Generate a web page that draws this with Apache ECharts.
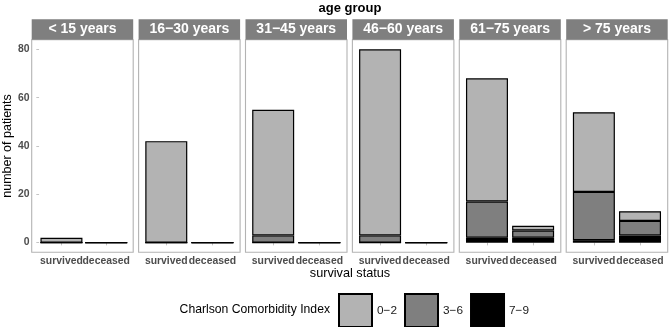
<!DOCTYPE html>
<html>
<head>
<meta charset="utf-8">
<script src="https://cdn.jsdelivr.net/npm/echarts@6/dist/echarts.min.js"></script>
<style>
  html, body { margin: 0; background: #fff; }
  #chart { width: 670px; height: 327px; }
</style>
</head>
<body>
<div id="chart"></div>
<script>
  // facets, x categories and fill levels
  const ageGroups = ['< 15 years', '16−30 years', '31−45 years', '46−60 years', '61−75 years', '> 75 years'];
  const statuses = ['survived', 'deceased'];
  const cciLevels = ['0−2', '3−6', '7−9'];
  // counts per age group: [survived, deceased]
  const cci02 = [[2, 0], [42, 0], [52, 0], [77, 0], [51, 2], [33, 4]];
  const cci36 = [[0, 0], [0, 0], [3, 0], [3, 0], [15, 3], [20, 6]];
  const cci79 = [[0, 0], [0, 0], [0, 0], [0, 0], [2, 2], [1, 3]];
  const yTicks = [0, 20, 40, 60, 80];

  const FONT = 'Liberation Sans, Arial, sans-serif';
  const cciColors = ['#b3b3b3', '#7f7f7f', '#000000'];
  const cciData = [cci02, cci36, cci79];

  // panel layout (px); the category band sits inside the panel like ggplot's discrete expansion
  const panelLeft = 31.7;
  const panelStep = 106.9;
  const panelW = 101.5;
  const panelTop = 39.7;
  const panelH = 212.6;
  const stripH = 20.4;
  const bandInset = panelW * 0.1 / 2.2; // 0.6 expansion minus half band (0.5) on each side

  const myChart = echarts.init(document.getElementById('chart'));

  const grids = [];
  const xAxes = [];
  const yAxes = [];
  const series = [];
  const graphics = [];

  ageGroups.forEach((group, i) => {
    const left = panelLeft + i * panelStep;
    grids.push({
      left: left + bandInset,
      top: panelTop,
      width: panelW - 2 * bandInset,
      height: panelH,
    });
    xAxes.push({
      gridIndex: i,
      type: 'category',
      data: statuses,
      axisLine: { show: false },
      splitLine: { show: false },
      axisTick: {
        show: true,
        alignWithLabel: true,
        length: 2.75,
        lineStyle: { color: '#c4c4c4' },
      },
      axisLabel: {
        interval: 0,
        color: '#4d4d4d',
        fontWeight: 'bold',
        fontFamily: FONT,
        fontSize: 10.4,
        margin: 3.5,
      },
    });
    yAxes.push({
      gridIndex: i,
      type: 'value',
      min: -4,
      max: 84,
      axisLine: { show: false },
      splitLine: { show: false },
      axisTick: {
        show: i === 0,
        customValues: yTicks,
        length: 2.75,
        lineStyle: { color: '#c4c4c4' },
      },
      axisLabel: {
        show: i === 0,
        customValues: yTicks,
        color: '#4d4d4d',
        fontWeight: 'bold',
        fontFamily: FONT,
        fontSize: 10.4,
        margin: 5 + bandInset,
      },
      name: i === 0 ? 'number of patients' : '',
      nameLocation: 'middle',
      nameGap: 17 + bandInset,
      nameTextStyle: { color: '#000', fontSize: 12.5, fontFamily: FONT },
    });

    // bottom of the stack first: 7-9, then 3-6, then 0-2
    [2, 1, 0].forEach((k) => {
      series.push({
        name: cciLevels[k],
        type: 'bar',
        xAxisIndex: i,
        yAxisIndex: i,
        stack: 'g' + i,
        barWidth: 42,
        data: cciData[k][i],
        itemStyle: {
          color: cciColors[k],
          borderColor: '#000',
          borderWidth: 1.2,
        },
        emphasis: { disabled: true },
      });
    });

    // panel border
    graphics.push({
      type: 'rect',
      shape: { x: left, y: panelTop, width: panelW, height: panelH },
      style: { fill: null, stroke: '#b3b3b3', lineWidth: 1.1 },
      silent: true,
    });
    // facet strip
    graphics.push({
      type: 'rect',
      shape: { x: left, y: panelTop - stripH, width: panelW, height: stripH },
      style: { fill: '#7f7f7f' },
      silent: true,
    });
    graphics.push({
      type: 'text',
      x: left + panelW / 2,
      y: panelTop - stripH / 2,
      style: {
        text: group,
        fill: '#fff',
        font: 'bold 14px ' + FONT,
        align: 'center',
        verticalAlign: 'middle',
      },
      silent: true,
    });
  });

  graphics.push({
    type: 'text',
    x: 350,
    y: 273,
    style: {
      text: 'survival status',
      fill: '#000',
      font: '12.7px ' + FONT,
      align: 'center',
      verticalAlign: 'middle',
    },
  });
  graphics.push({
    type: 'text',
    x: 330,
    y: 310,
    style: {
      text: 'Charlson Comorbidity Index',
      fill: '#000',
      font: '12.2px ' + FONT,
      align: 'right',
      verticalAlign: 'middle',
    },
  });

  myChart.setOption({
    animation: false,
    title: {
      text: 'age group',
      left: 350,
      top: 2,
      padding: 0,
      textAlign: 'center',
      textStyle: { color: '#000', fontWeight: 'bold', fontSize: 13, fontFamily: FONT },
    },
    legend: {
      data: cciLevels,
      left: 338,
      top: 293,
      padding: 0,
      icon: 'rect',
      itemWidth: 33,
      itemHeight: 33,
      itemGap: 7,
      selectedMode: false,
      textStyle: { color: '#1a1a1a', fontSize: 11.8, fontFamily: FONT },
    },
    grid: grids,
    xAxis: xAxes,
    yAxis: yAxes,
    series: series,
    graphic: graphics,
  });

  window.addEventListener('resize', function () {
    myChart && myChart.resize();
  });
</script>
</body>
</html>
